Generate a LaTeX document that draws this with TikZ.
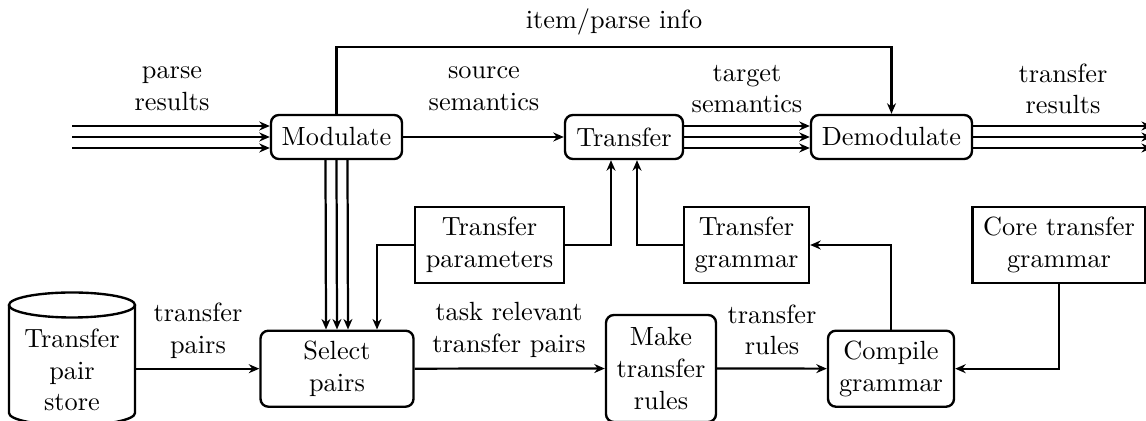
\documentclass[tikz,border=0pt]{standalone}
\usetikzlibrary{arrows.meta,calc}
\begin{document}
\begin{tikzpicture}[x=0.38pt,y=-0.38pt,
  every node/.style={font=\normalsize, align=center},
  sz/.style 2 args={minimum width=#1*0.38pt, minimum height=#2*0.38pt, inner sep=0pt},
  rbox/.style={draw, line width=0.9pt, rounded corners=3pt},
  sbox/.style={draw, line width=0.9pt},
  lbl/.style={inner sep=0pt},
  arr/.style={line width=0.85pt, -{Stealth[length=4pt,width=3.4pt]}},
  ln/.style={line width=0.9pt}]
\useasboundingbox (0,0) rectangle (1146,421);

% main row
\node[rbox, sz={131}{44}] (mod)   at (336.5,137) {Modulate};
\node[rbox, sz={118}{44}] (trans) at (624,137)   {Transfer};
\node[rbox, sz={161}{44}] (demod) at (891.5,137) {Demodulate};

% resource boxes
\node[sbox, sz={149}{76}] (tpar)  at (489.5,245) {Transfer\\parameters};
\node[sbox, sz={125}{76}] (tgram) at (746.5,245) {Transfer\\grammar};
\node[sbox, sz={173}{76}] (core)  at (1059,245)  {Core transfer\\grammar};

% lower row
\node[rbox, sz={153}{76}]  (sel)  at (337,368.7) {Select\\pairs};
\node[rbox, sz={110}{107}] (make) at (661,368.5) {Make\\transfer\\rules};
\node[rbox, sz={126}{76}]  (comp) at (891,368.7) {Compile\\grammar};

% pair store (cylinder)
\node[sz={126}{110}] (store) at (72,370) {Transfer\\pair\\store};
\draw[ln] (72,305) ellipse[x radius=23.94pt, y radius=4.75pt];
\draw[ln] (9,305) -- (9,413) arc[start angle=180, end angle=360, x radius=23.94pt, y radius=4.75pt] -- (135,305);

% free ends of the bundles
\coordinate (in)  at (72,137);
\coordinate (out) at (1152,137);
\coordinate (top) at (614,47);

% bundles of three
\foreach \d in {-11,0,11} {
  \draw[arr] ([yshift=\d*0.38pt]in) -- ([yshift=\d*0.38pt]in -| mod.west);
  \draw[arr] ([yshift=\d*0.38pt]trans.east) -- ([yshift=\d*0.38pt]demod.west);
  \draw[arr] ([yshift=\d*0.38pt]demod.east) -- ([yshift=\d*0.38pt]out);
  \draw[arr] ([xshift=\d*0.38pt]mod.south) -- ([xshift=\d*0.38pt]sel.north);
}

% single connectors
\draw[arr] (mod) -- (trans);
\draw[arr] (mod.north) -- (mod.north |- top) -| (demod.north);
\draw[arr] (tpar.west) -| ([xshift=40*0.38pt]sel.north);
\draw[arr] (tpar.east) -| ([xshift=-13*0.38pt]trans.south);
\draw[arr] (tgram.west) -| ([xshift=13*0.38pt]trans.south);
\draw[arr] (comp.north) |- (tgram.east);
\draw[arr] (core.south) |- (comp.east);
\draw[arr] (sel.west -| store.east) -- (sel.west);
\draw[arr] (sel) -- (make);
\draw[arr] (make) -- (comp);

% labels
\node[lbl] (linfo) at (614,22)  {item/parse info};
\node[lbl] (lpr)   at (172,89)  {parse\\results};
\node[lbl] (lss)   at (484,89)  {source\\semantics};
\node[lbl] (lts)   at (747,89)  {target\\semantics};
\node[lbl] (ltr)   at (1063,89) {transfer\\results};
\node[lbl] (ltp)   at (198,331) {transfer\\pairs};
\node[lbl] (ltask) at (509,330) {task relevant\\transfer pairs};
\node[lbl] (lrul)  at (772,330) {transfer\\rules};
\end{tikzpicture}
\end{document}
